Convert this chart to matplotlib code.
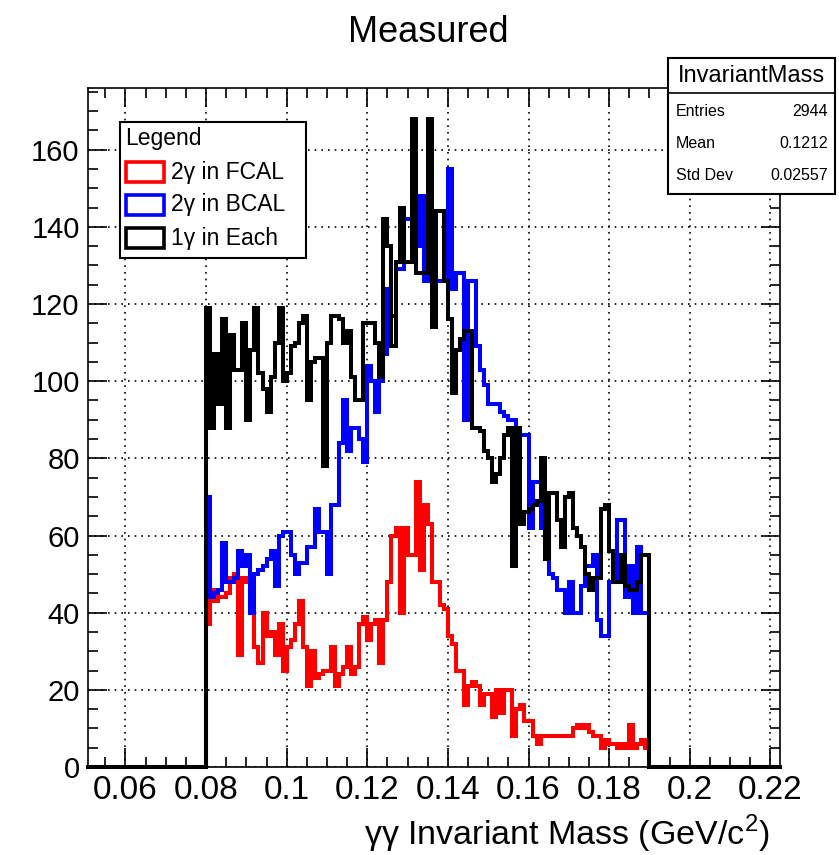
import numpy as np
import matplotlib
matplotlib.use("Agg")
import matplotlib.pyplot as plt
from matplotlib.patches import Rectangle
from matplotlib.ticker import MultipleLocator

plt.rcParams['font.family'] = ['Liberation Sans', 'DejaVu Sans']
plt.rcParams['mathtext.fontset'] = 'custom'
plt.rcParams['mathtext.rm'] = 'Liberation Sans'

# ---------------- data ----------------
bin_lo = 0.08
bin_width = 0.001

black_each = [119, 88, 107, 94, 116, 88, 112, 103, 103, 115,
              90, 108, 119, 102, 98, 92, 101, 110, 119, 100,
              102, 109, 110, 115, 117, 95, 105, 106, 106, 78,
              110, 117, 117, 116, 110, 113, 101, 95, 95, 115,
              115, 115, 110, 101, 142, 135, 109, 131, 145, 131,
              131, 168, 128, 128, 128, 168, 114, 144, 144, 126,
              116, 97, 108, 111, 113, 113, 88, 88, 87, 82,
              80, 74, 76, 80, 86, 88, 52, 88, 63, 66,
              67, 68, 69, 80, 54, 71, 71, 64, 57, 70,
              71, 62, 60, 57, 50, 46, 49, 49, 67, 68,
              56, 48, 48, 55, 47, 46, 46, 48, 55, 55]

blue_bcal = [70, 44, 45, 46, 58, 48, 48, 49, 56, 52,
             55, 40, 50, 51, 52, 54, 56, 47, 60, 61,
             61, 55, 50, 53, 53, 57, 57, 67, 61, 61,
             50, 68, 68, 84, 95, 82, 88, 88, 85, 79,
             104, 100, 92, 100, 107, 124, 117, 129, 129, 142,
             142, 135, 135, 148, 126, 128, 128, 126, 126, 126,
             155, 124, 128, 128, 90, 126, 126, 109, 103, 99,
             94, 94, 94, 92, 91, 90, 90, 88, 86, 86,
             62, 74, 74, 62, 62, 50, 49, 46, 46, 40,
             48, 40, 40, 47, 52, 52, 55, 38, 34, 34,
             48, 48, 64, 64, 44, 52, 40, 57, 40, 40]

red_fcal = [37, 46, 43, 44, 44, 45, 49, 50, 29, 49,
            48, 40, 31, 27, 40, 34, 35, 29, 37, 25,
            31, 33, 37, 43, 31, 21, 30, 23, 24, 25,
            25, 31, 21, 24, 26, 31, 24, 26, 37, 39,
            33, 37, 38, 27, 38, 48, 60, 62, 40, 62,
            55, 55, 74, 51, 68, 63, 48, 48, 42, 41,
            34, 32, 25, 25, 16, 21, 22, 21, 16, 19,
            19, 13, 20, 14, 20, 20, 8, 15, 16, 12,
            12, 8, 6, 8, 8, 8, 8, 8, 8, 8,
            8, 10, 11, 10, 11, 9, 8, 8, 5, 7,
            6, 6, 5, 6, 5, 11, 5, 6, 7, 5]

legend_labels = ["2\u03b3 in FCAL", "2\u03b3 in BCAL", "1\u03b3 in Each"]
stats_names = ["Entries", "Mean", "Std Dev"]
stats_values = ["2944", "0.1212", "0.02557"]
x_ticks = [0.06, 0.08, 0.10, 0.12, 0.14, 0.16, 0.18, 0.20, 0.22]
x_tick_labels = ["0.06", "0.08", "0.1", "0.12", "0.14", "0.16", "0.18", "0.2", "0.22"]
y_ticks = [0, 20, 40, 60, 80, 100, 120, 140, 160]

# ---------------- figure ----------------
W, H = 839, 855
fig = plt.figure(figsize=(W / 100, H / 100), dpi=100)

def fx(px):
    return px / W

def fy(py):
    return 1 - py / H

L, R, T, B = 88, 780, 88, 767
ax = fig.add_axes([fx(L), fy(B), (R - L) / W, (B - T) / H])
xmin, xmax = 0.0507, 0.2224
ax.set_xlim(xmin, xmax)
ax.set_ylim(0, 176)

edges = np.round(bin_lo + bin_width * np.arange(len(black_each) + 1), 6)
lw = 2.9
ax.stairs(red_fcal, edges, baseline=0, color='#ff0000', lw=lw, zorder=3)
ax.stairs(blue_bcal, edges, baseline=0, color='#0000ff', lw=lw, zorder=4)
ax.stairs(black_each, edges, baseline=0, color='black', lw=lw, zorder=5)
ax.plot([xmin, edges[0]], [0, 0], color='black', lw=lw, zorder=5, clip_on=False)
ax.plot([edges[-1], xmax], [0, 0], color='black', lw=lw, zorder=5, clip_on=False)

ax.set_xticks(x_ticks)
ax.set_xticklabels(x_tick_labels)
ax.set_yticks(y_ticks)
ax.xaxis.set_minor_locator(MultipleLocator(0.005))
ax.yaxis.set_minor_locator(MultipleLocator(5))
ax.tick_params(which='both', direction='in', top=True, right=True, width=1.2)
ax.tick_params(which='major', length=14)
ax.tick_params(which='minor', length=7)
ax.tick_params(axis='x', labelsize=24, pad=6)
ax.tick_params(axis='y', labelsize=21, pad=6)
ax.grid(True, which='major', color='black', linestyle=(0, (1, 3)), lw=1.2)
for s in ax.spines.values():
    s.set_linewidth(1.2)

fig.text(fx(770), fy(834), "\u03b3\u03b3 Invariant Mass (GeV/c$^{2}$)", fontsize=24.5,
         ha='right', va='center')

fig.text(fx(428), fy(32), "Measured", fontsize=26, ha='center', va='center')

# legend box
lx0, ly0, lx1, ly1 = 120, 122, 306, 258
fig.patches.append(Rectangle((fx(lx0), fy(ly1)), fx(lx1) - fx(lx0), fy(ly0) - fy(ly1),
                             transform=fig.transFigure, facecolor='white', edgecolor='black',
                             lw=1.5, zorder=10))
fig.text(fx(125), fy(139), "Legend", fontsize=16.5, ha='left', va='center', zorder=11)
leg_colors = ['#ff0000', '#0000ff', 'black']
leg_y = [172, 205, 238]
for lab, col, yy in zip(legend_labels, leg_colors, leg_y):
    fig.patches.append(Rectangle((fx(126), fy(yy + 10)), fx(164) - fx(126), fy(yy - 10) - fy(yy + 10),
                                 transform=fig.transFigure, facecolor='white', edgecolor=col,
                                 lw=2.6, zorder=11))
    fig.text(fx(171), fy(yy), lab, fontsize=16.5, ha='left', va='center', zorder=12)

# stats box
sx0, sy0, sx1, sy1 = 668, 58, 835, 194
fig.patches.append(Rectangle((fx(sx0), fy(sy1)), fx(sx1) - fx(sx0), fy(sy0) - fy(sy1),
                             transform=fig.transFigure, facecolor='white', edgecolor='black',
                             lw=1.5, zorder=10))
fig.add_artist(plt.Line2D([fx(sx0), fx(sx1)], [fy(93), fy(93)], transform=fig.transFigure,
                          color='black', lw=1.2, zorder=11))
fig.text(fx(751), fy(76), "InvariantMass", fontsize=17, ha='center', va='center', zorder=12)
for name, val, yy in zip(stats_names, stats_values, [112, 144, 176]):
    fig.text(fx(676), fy(yy), name, fontsize=11.5, ha='left', va='center', zorder=12)
    fig.text(fx(828), fy(yy), val, fontsize=11.5, ha='right', va='center', zorder=12)

fig.savefig("out.png", dpi=100)
